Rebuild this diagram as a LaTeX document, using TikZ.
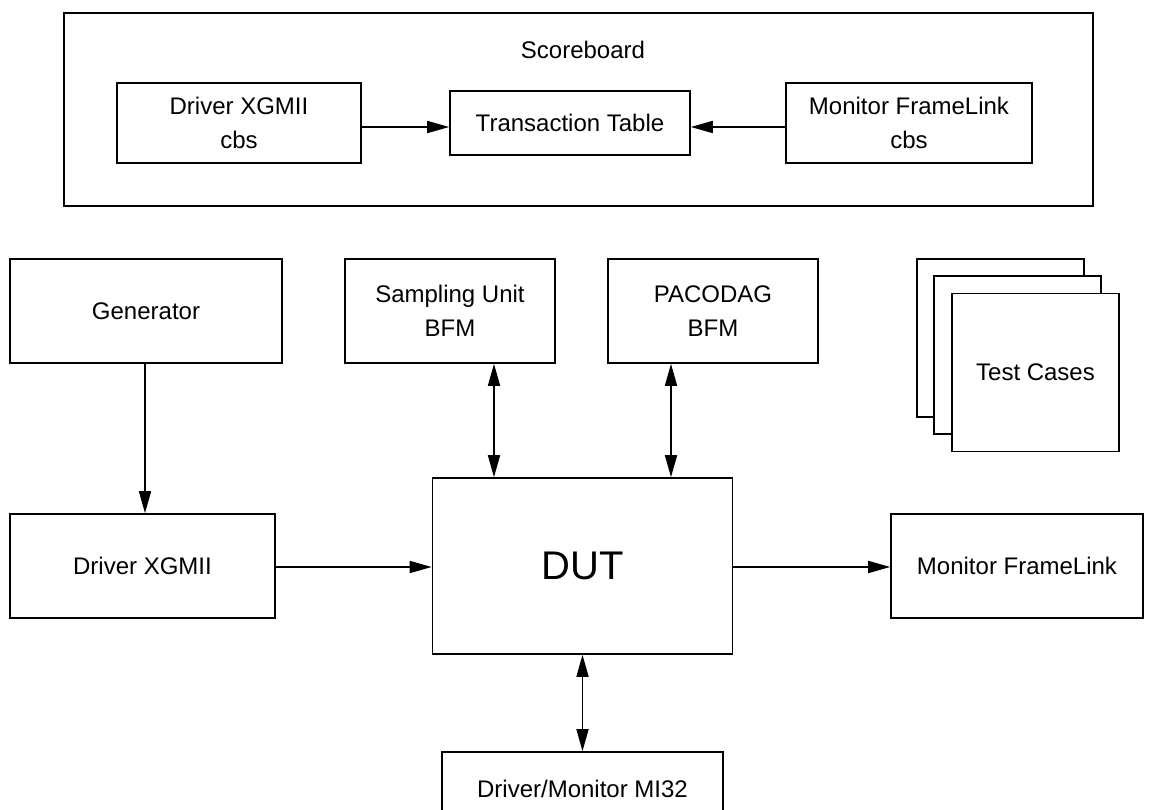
\documentclass[tikz,border=0pt]{standalone}
\usepackage{fontspec}
\setmainfont{Liberation Sans}
\usetikzlibrary{arrows.meta,positioning}
\begin{document}
\begin{tikzpicture}[x=1pt,y=-1pt,
    box/.style={draw,line width=1.6pt,fill=white,align=center,inner sep=0pt,
      font=\fontsize{24}{34}\selectfont},
    link/.style={line width=1.6pt,-{Triangle[length=22pt,width=12pt]}},
    both/.style={line width=1.6pt,{Triangle[length=22pt,width=12pt]}-{Triangle[length=22pt,width=12pt]}}]
            \useasboundingbox (0,0) rectangle (1154,810);

            \coordinate (SB) at (578.5,109.5);
            \coordinate (DC) at (239,123);
            \coordinate (TT) at (570,123);
            \coordinate (MC) at (909,123);

            \coordinate (GE) at (146,311);
            \coordinate (SU) at (450,311);
            \coordinate (PA) at (713,311);

            \coordinate (DX) at (142.5,566);
            \coordinate (DU) at (582.5,566);
            \coordinate (MF) at (1017,566);
            \coordinate (MI) at (582.5,789);

            \node[box,minimum width=1029pt,minimum height=193pt] (scoreboard) at (SB) {};
            \node[font=\fontsize{24}{34}\selectfont] (sbtitle) at (583,50) {Scoreboard};
            \node[box,minimum width=244pt,minimum height=80pt] (drvcbs) at (DC) {Driver XGMII\\cbs};
            \node[box,minimum width=240pt,minimum height=64pt] (table) at (TT) {Transaction Table};
            \node[box,minimum width=246pt,minimum height=80pt] (moncbs) at (MC) {Monitor FrameLink\\cbs};

            \node[box,minimum width=272pt,minimum height=104pt] (gen) at (GE) {Generator};
            \node[box,minimum width=210pt,minimum height=104pt] (samp) at (SU) {Sampling Unit\\BFM};
            \node[box,minimum width=210pt,minimum height=104pt] (paco) at (PA) {PACODAG\\BFM};

            \node[box,minimum width=167pt,minimum height=158pt] (tc3) at (1000.5,338) {};
            \node[box,minimum width=167pt,minimum height=158pt] (tc2) at (1017.5,355) {};
            \node[box,minimum width=167pt,minimum height=158pt] (tc1) at (1035.5,372.5) {Test Cases};

            \node[box,minimum width=265pt,minimum height=104pt] (drv) at (DX) {Driver XGMII};
            \node[box,minimum width=300pt,minimum height=176pt,font=\fontsize{40}{48}\selectfont] (dut) at (DU) {DUT};
            \node[box,minimum width=281pt,minimum height=74pt] (mi32) at (MI) {Driver/Monitor MI32};
            \node[box,minimum width=252pt,minimum height=104pt] (mon) at (MF) {Monitor FrameLink};

            \draw[link] (drvcbs.east |- 0,127) -- (table.west |- 0,127);
            \draw[link] (moncbs.west |- 0,127) -- (table.east |- 0,127);

            \draw[link] (gen.south -| 145,0) -- (drv.north -| 145,0);
            \draw[both] (samp.south -| 494,0) -- (dut.north -| 494,0);
            \draw[both] (paco.south -| 671,0) -- (dut.north -| 671,0);

            \draw[link] (drv.east |- 0,567) -- (dut.west |- 0,567);
            \draw[link] (dut.east |- 0,567) -- (mon.west |- 0,567);
            \draw[both] (dut.south) -- (mi32.north);
        \end{tikzpicture}
\end{document}
